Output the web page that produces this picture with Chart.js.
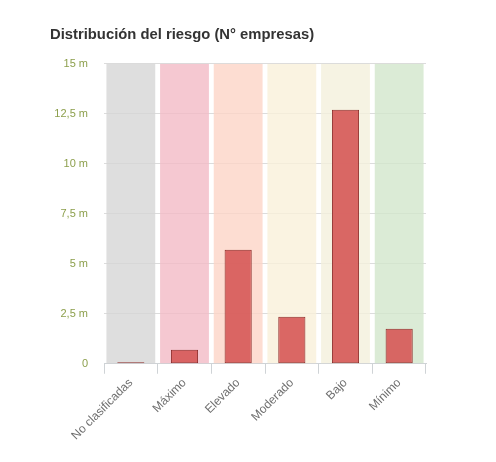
<!DOCTYPE html>
<html>
<head>
<meta charset="utf-8">
<script src="https://cdn.jsdelivr.net/npm/chart.js@4.4.1/dist/chart.umd.min.js"></script>
<style>
  html, body { margin: 0; padding: 0; background: #fff; }
  #wrap { width: 496px; height: 462px; }
</style>
</head>
<body>
<div id="wrap"><canvas id="riskChart"></canvas></div>
<script>
// datos del grafico
const categories = ['No clasificadas', 'Máximo', 'Elevado', 'Moderado', 'Bajo', 'Mínimo'];
const empresas = [0.07, 0.7, 5.7, 2.35, 12.7, 1.75];
const bandTop = [15, 15, 15, 15, 15, 15];
const yTickLabels = ['0', '2,5 m', '5 m', '7,5 m', '10 m', '12,5 m', '15 m'];

// colores de fondo por nivel de riesgo (semi transparentes para ver la rejilla)
const bandColors = [
    'rgba(214,214,214,0.8)',
    'rgba(242,186,197,0.8)',
    'rgba(252,212,199,0.8)',
    'rgba(249,240,217,0.8)',
    'rgba(244,240,220,0.8)',
    'rgba(210,230,204,0.8)'
];

const ctx = document.getElementById('riskChart').getContext('2d');
new Chart(ctx, {
    type: 'bar',
    data: {
        labels: categories,
        datasets: [{
            label: 'Nº empresas',
            data: empresas,
            backgroundColor: 'rgba(214,88,86,0.9)',
            borderColor: '#8e2e2c',
            borderWidth: 1,
            borderSkipped: false,
            barPercentage: 0.55,
            categoryPercentage: 0.92,
            grouped: false,
            order: 0
        }, {
            label: 'fondo',
            data: bandTop,
            backgroundColor: bandColors,
            borderWidth: 0,
            barPercentage: 1,
            categoryPercentage: 0.91,
            grouped: false,
            order: 1
        }]
    },
    options: {
        responsive: true,
        maintainAspectRatio: false,
        animation: false,
        layout: {
            padding: { left: 50, right: 70, top: 26, bottom: 17 }
        },
        plugins: {
            legend: { display: false },
            tooltip: { enabled: false },
            title: {
                display: true,
                text: 'Distribución del riesgo (N° empresas)',
                align: 'start',
                color: '#333',
                font: { family: 'Liberation Sans, Arial, sans-serif', size: 14.8, weight: 'bold' },
                padding: { top: 0, bottom: 20 }
            }
        },
        scales: {
            x: {
                offset: true,
                grid: {
                    display: true,
                    drawOnChartArea: false,
                    drawTicks: true,
                    tickLength: 10,
                    color: '#cfd3d6'
                },
                border: { color: '#cfd3d6' },
                ticks: {
                    color: '#6e6e6e',
                    minRotation: 45,
                    maxRotation: 45,
                    padding: 2,
                    font: { family: 'Liberation Sans, Arial, sans-serif', size: 12 }
                }
            },
            y: {
                min: 0,
                max: 15,
                afterFit: function(scale) {
                    scale.width = 54;
                },
                grid: {
                    color: '#dcdcdc',
                    drawTicks: false
                },
                border: { display: false },
                ticks: {
                    stepSize: 2.5,
                    padding: 16,
                    color: '#8c9f4c',
                    font: { family: 'Liberation Sans, Arial, sans-serif', size: 11 },
                    callback: function(value, index) {
                        return yTickLabels[index];
                    }
                }
            }
        }
    }
});
</script>
</body>
</html>
